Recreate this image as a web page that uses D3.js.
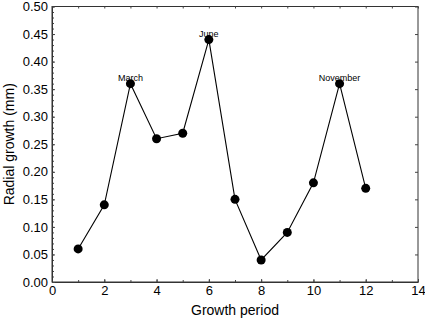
<!DOCTYPE html>
<html>
<head>
<meta charset="utf-8">
<script src="https://cdn.jsdelivr.net/npm/d3@7"></script>
<style>
  body { margin: 0; background: #fff; }
  svg { font-family: 'Liberation Sans', Arial, sans-serif; }
</style>
</head>
<body>
<div id="chart"></div>
<script>
// growth period vs radial growth
const periods = [1, 2, 3, 4, 5, 6, 7, 8, 9, 10, 11, 12];
const growth = [0.06, 0.14, 0.36, 0.26, 0.27, 0.44, 0.15, 0.04, 0.09, 0.18, 0.36, 0.17];
const monthLabels = [
  { period: 3, text: 'March' },
  { period: 6, text: 'June' },
  { period: 11, text: 'November' }
];
const xTicks = [0, 2, 4, 6, 8, 10, 12, 14];
const yTicks = [0, 0.05, 0.1, 0.15, 0.2, 0.25, 0.3, 0.35, 0.4, 0.45, 0.5];

const W = 425, H = 321;
const margin = { top: 6.5, right: 7, bottom: 39, left: 52 };
const width = W - margin.left - margin.right;
const height = H - margin.top - margin.bottom;

const svg = d3.select('#chart').append('svg')
  .attr('width', W)
  .attr('height', H);

const g = svg.append('g')
  .attr('transform', `translate(${margin.left},${margin.top})`);

const x = d3.scaleLinear().domain([0, 14]).range([0, width]);
const y = d3.scaleLinear().domain([0, 0.5]).range([height, 0]);

// frame
g.append('rect')
  .attr('width', width)
  .attr('height', height)
  .attr('fill', 'none')
  .attr('stroke', '#333')
  .attr('stroke-width', 1);

// minor ticks (inward)
const xMinor = d3.range(0, 15, 1);
const yMinor = d3.range(0, 0.501, 0.01);

g.append('g')
  .attr('transform', `translate(0,${height})`)
  .call(d3.axisTop(x).tickValues(xMinor).tickSize(2).tickFormat(''))
  .call(a => a.select('.domain').remove());
g.append('g')
  .call(d3.axisBottom(x).tickValues(xMinor).tickSize(2).tickFormat(''))
  .call(a => a.select('.domain').remove());
g.append('g')
  .call(d3.axisRight(y).tickValues(yMinor).tickSize(2).tickFormat(''))
  .call(a => a.select('.domain').remove());
g.append('g')
  .attr('transform', `translate(${width},0)`)
  .call(d3.axisLeft(y).tickValues(yTicks).tickSize(3).tickFormat(''))
  .call(a => a.select('.domain').remove());

// major axes with labels
const xAxis = g.append('g')
  .attr('transform', `translate(0,${height})`)
  .call(d3.axisBottom(x).tickValues(xTicks).tickSizeInner(-3).tickSizeOuter(0).tickPadding(5).tickFormat(d3.format('d')));
const yAxis = g.append('g')
  .call(d3.axisLeft(y).tickValues(yTicks).tickSizeInner(-3).tickSizeOuter(0).tickPadding(5).tickFormat(d3.format('.2f')));

[xAxis, yAxis].forEach(a => {
  a.select('.domain').attr('stroke', '#333');
  a.selectAll('.tick text').attr('fill', '#000').style('font-size', '13px');
});
yAxis.selectAll('.tick text').attr('x', -4);
xAxis.selectAll('.tick text').attr('y', 4);

g.selectAll('.tick line').attr('stroke', '#444');

// line + markers
const pts = periods.map((p, i) => ({ p, v: growth[i] }));

g.append('path')
  .datum(pts)
  .attr('fill', 'none')
  .attr('stroke', '#000')
  .attr('stroke-width', 1.1)
  .attr('d', d3.line().x(d => x(d.p)).y(d => y(d.v)));

g.selectAll('circle')
  .data(pts)
  .join('circle')
  .attr('cx', d => x(d.p))
  .attr('cy', d => y(d.v))
  .attr('r', 4.5)
  .attr('fill', '#000');

// month annotations
g.selectAll('.month')
  .data(monthLabels)
  .join('text')
  .attr('class', 'month')
  .attr('x', d => x(d.period))
  .attr('y', d => y(growth[periods.indexOf(d.period)]) - 3)
  .attr('text-anchor', 'middle')
  .style('font-size', '9px')
  .text(d => d.text);

// axis titles
svg.append('text')
  .attr('x', 235)
  .attr('y', 315)
  .attr('text-anchor', 'middle')
  .style('font-size', '14px')
  .text('Growth period');

svg.append('text')
  .attr('transform', `translate(14,${margin.top + height / 2}) rotate(-90)`)
  .attr('text-anchor', 'middle')
  .style('font-size', '14px')
  .text('Radial growth (mm)');
</script>
</body>
</html>
